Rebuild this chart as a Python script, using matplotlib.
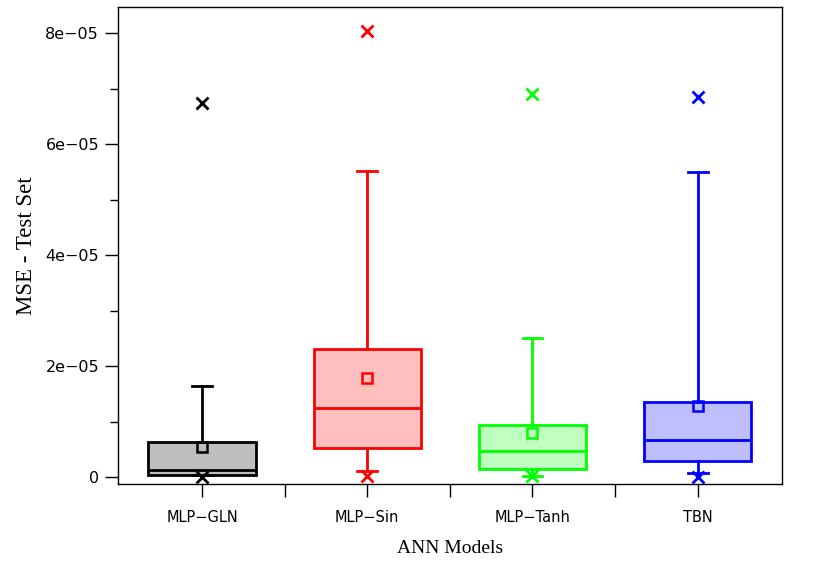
import matplotlib
matplotlib.use("Agg")
import matplotlib.pyplot as plt
from matplotlib.ticker import FuncFormatter, MultipleLocator

models = ["MLP−GLN", "MLP−Sin", "MLP−Tanh", "TBN"]
q1 = [0.4e-6, 5.2e-6, 1.4e-6, 2.9e-6]
med = [1.3e-6, 12.4e-6, 4.7e-6, 6.7e-6]
q3 = [6.3e-6, 23.1e-6, 9.4e-6, 13.6e-6]
mean = [5.4e-6, 17.8e-6, 7.9e-6, 12.8e-6]
whis_lo = [0.4e-6, 1.1e-6, 0.2e-6, 0.7e-6]
whis_hi = [16.4e-6, 55.2e-6, 25.1e-6, 54.9e-6]
mins = [0.0, 0.2e-6, 0.1e-6, 0.0]
maxs = [67.4e-6, 80.3e-6, 69.0e-6, 68.5e-6]

edge_colors = ["black", "#ff0000", "#00ff00", "#0000ff"]
fill_colors = ["#bebebe", "#ffbfbf", "#bfffbf", "#bfbfff"]

fig = plt.figure(figsize=(8.3, 5.79), dpi=100)
ax = fig.add_axes([0.142, 0.164, 0.800, 0.824])

for i in range(len(models)):
    stats = [dict(med=med[i], q1=q1[i], q3=q3[i], whislo=whis_lo[i], whishi=whis_hi[i],
                  mean=mean[i], fliers=[mins[i], maxs[i]], label=models[i])]
    c = edge_colors[i]
    ax.bxp(stats, positions=[i + 1], widths=0.65, capwidths=0.12, patch_artist=True,
           showmeans=True, showfliers=True,
           boxprops=dict(facecolor=fill_colors[i], edgecolor=c, linewidth=2),
           medianprops=dict(color=c, linewidth=2),
           whiskerprops=dict(color=c, linewidth=2),
           capprops=dict(color=c, linewidth=2),
           meanprops=dict(marker="s", markerfacecolor="none", markeredgecolor=c,
                          markersize=7.5, markeredgewidth=1.8),
           flierprops=dict(marker="x", markeredgecolor=c, markersize=8,
                           markeredgewidth=2, linestyle="none"))

ax.set_xlim(0.49, 4.51)
ax.set_ylim(-1.26e-6, 8.47e-5)
ax.set_xticks([1, 2, 3, 4])
ax.set_xticks([1.5, 2.5, 3.5], minor=True)
ax.set_xticklabels(models, fontsize=10.5)
ax.yaxis.set_major_locator(MultipleLocator(2e-5))
ax.yaxis.set_minor_locator(MultipleLocator(1e-5))


def fmt(v, pos):
    if abs(v) < 1e-12:
        return "0"
    return f"{v:.0e}".replace("-", "\u2212")


ax.yaxis.set_major_formatter(FuncFormatter(fmt))
ax.tick_params(axis="y", which="major", direction="out", length=9.5, width=1, labelsize=11.5, pad=4)
ax.tick_params(axis="y", which="minor", direction="out", length=6, width=1)
ax.tick_params(axis="x", which="both", direction="out", length=9.5, width=1, pad=9)
for s in ax.spines.values():
    s.set_linewidth(1)

ax.set_xlabel("ANN Models", family="Liberation Serif", fontsize=14, labelpad=11)
ax.set_ylabel("MSE - Test Set", family="Liberation Serif", fontsize=16.5, labelpad=6)

fig.savefig("out.png", dpi=100)
